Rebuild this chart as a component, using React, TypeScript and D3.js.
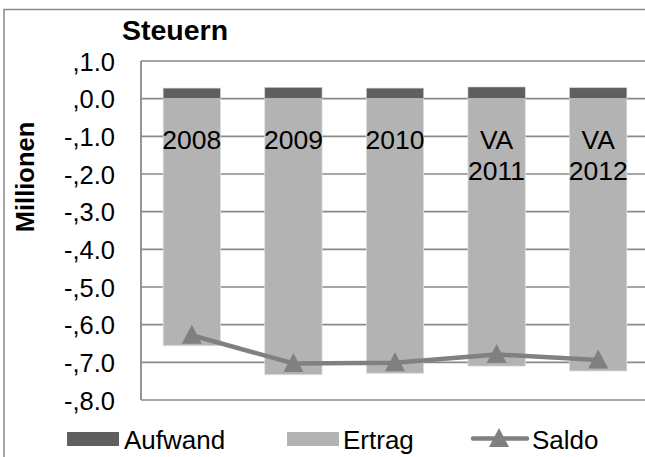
import React from "react";
import * as d3 from "d3";

const categories: string[][] = [["2008"], ["2009"], ["2010"], ["VA", "2011"], ["VA", "2012"]];
const aufwand: number[] = [0.28, 0.3, 0.28, 0.31, 0.29];
const ertrag: number[] = [-6.56, -7.33, -7.29, -7.1, -7.23];
const saldo: number[] = [-6.28, -7.03, -7.01, -6.79, -6.94];
const yTicks: number[] = [1, 0, -1, -2, -3, -4, -5, -6, -7, -8];

const W = 645;
const H = 457;
const FONT = "'Liberation Sans', Arial, sans-serif";

function fmt(v: number): string {
  const s = Math.abs(v).toFixed(1);
  return (v < 0 ? "-," : ",") + s;
}

export default function App() {
  const left = 141;
  const right = 649;
  const top = 61;
  const bottom = 400;
  const x = d3
    .scaleBand<number>()
    .domain(categories.map((_, i) => i))
    .range([left, right])
    .paddingInner(0.436)
    .paddingOuter(0.218);
  const y = d3.scaleLinear().domain([-8, 1]).range([bottom, top]);
  const bw = x.bandwidth();
  const cx = (i: number) => (x(i) as number) + bw / 2;
  const line = d3
    .line<number>()
    .x((_, i) => cx(i))
    .y((d) => y(d));
  const grid = "#898989";
  const tri = (px: number, py: number) =>
    `M${px},${py - 10.5}L${px + 10},${py + 8.5}L${px - 10},${py + 8.5}Z`;

  return (
    <svg
      width={W}
      height={H}
      style={{ position: "absolute", left: 0, top: 0, background: "#fff" }}
      fontFamily={FONT}
    >
      <rect x={0} y={0} width={W} height={H} fill="#fff" />
      {/* outer frame */}
      <path d={`M4,${H}V9.5H${W + 5}`} fill="none" stroke="#8a8a8a" strokeWidth={1.5} />
      {/* grid lines */}
      {yTicks.map((t) => (
        <line key={t} x1={left} x2={W + 10} y1={y(t)} y2={y(t)} stroke={grid} strokeWidth={1.6} />
      ))}
      {/* plot frame left */}
      <line x1={left} x2={left} y1={top} y2={bottom} stroke={grid} strokeWidth={1.8} />
      {/* bars */}
      {categories.map((_, i) => (
        <g key={i}>
          <rect
            x={x(i)}
            y={y(0)}
            width={bw}
            height={y(ertrag[i]) - y(0)}
            fill="#b3b3b3"
            stroke="#dedede"
            strokeWidth={0.8}
          />
          <rect
            x={x(i)}
            y={y(aufwand[i])}
            width={bw}
            height={y(0) - y(aufwand[i])}
            fill="#5f5f5f"
            stroke="#cfcfcf"
            strokeWidth={0.6}
          />
        </g>
      ))}
      {/* category labels */}
      {categories.map((c, i) => (
        <text key={i} x={cx(i)} y={148.5} textAnchor="middle" fontSize={26.5} fill="#000">
          {c.map((s, j) => (
            <tspan key={j} x={cx(i)} dy={j === 0 ? 0 : 31.7}>
              {s}
            </tspan>
          ))}
        </text>
      ))}
      {/* saldo line */}
      <path d={line(saldo) || ""} fill="none" stroke="#808080" strokeWidth={4.5} strokeLinejoin="round" />
      {saldo.map((v, i) => (
        <path key={i} d={tri(cx(i), y(v))} fill="#808080" />
      ))}
      {/* y tick labels */}
      {yTicks.map((t) => (
        <text key={t} x={115} y={y(t) + 9.5} textAnchor="end" fontSize={25.5} fill="#000">
          {fmt(t)}
        </text>
      ))}
      {/* title */}
      <text x={122} y={39.5} fontSize={28.5} fontWeight="bold" fill="#000">
        Steuern
      </text>
      {/* y axis title */}
      <text
        transform={`translate(33.5,177) rotate(-90)`}
        textAnchor="middle"
        fontSize={25.5}
        fontWeight="bold"
        fill="#000"
      >
        Millionen
      </text>
      {/* legend */}
      <rect x={67} y={432} width={52} height={14} fill="#5f5f5f" />
      <text x={124} y={448.5} fontSize={26} fill="#000">
        Aufwand
      </text>
      <rect x={287} y={432} width={52} height={14} fill="#b3b3b3" />
      <text x={343} y={448.5} fontSize={26} fill="#000">
        Ertrag
      </text>
      <line x1={473} x2={527} y1={438.5} y2={438.5} stroke="#808080" strokeWidth={4.5} strokeLinecap="round" />
      <path d={tri(499, 438.5)} fill="#808080" />
      <text x={532} y={448.5} fontSize={26} fill="#000">
        Saldo
      </text>
    </svg>
  );
}
